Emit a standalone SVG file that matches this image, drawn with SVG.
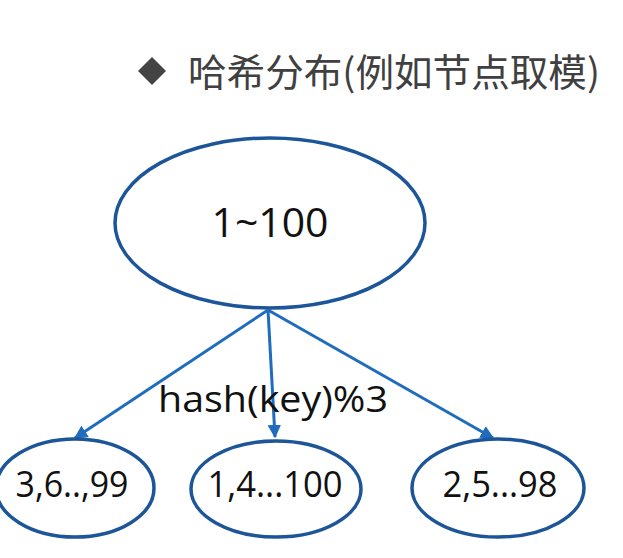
<svg xmlns="http://www.w3.org/2000/svg" width="623" height="558" viewBox="0 0 623 558">
<style>
.node ellipse{fill:#fff;stroke:#1d5599;stroke-width:3.5}
.lbl{font-family:"Open Sans","Liberation Sans",sans-serif;fill:#111;text-anchor:middle}
.edge{stroke:#1f6cbf;stroke-width:3;fill:none;marker-end:url(#ah)}
</style>
<defs>
<marker id="ah" viewBox="0 0 10 10" refX="9" refY="5" markerWidth="4.5" markerHeight="4.5" orient="auto" markerUnits="strokeWidth">
<path d="M0,0 L10,5 L0,10 z" fill="#1f6cbf"/>
</marker>
</defs>
<rect width="623" height="558" fill="#fff"/>
<g id="title">
<polygon points="152,57 166,71 152,85 138,71" fill="#444"/>
<text x="188" y="86" font-family="'Noto Sans CJK SC',sans-serif" font-size="38" fill="#404040" textLength="412" lengthAdjust="spacingAndGlyphs">哈希分布(例如节点取模)</text>
</g>
<g id="connectors">
<line class="edge" x1="268" y1="310" x2="75" y2="438"/>
<line class="edge" x1="268" y1="310" x2="275" y2="437"/>
<line class="edge" x1="268" y1="310" x2="493" y2="438"/>
</g>
<g id="root" class="node">
<ellipse cx="270" cy="223" rx="155" ry="85"/>
<text class="lbl" x="270" y="237" font-size="40" textLength="117" lengthAdjust="spacingAndGlyphs">1~100</text>
</g>
<g id="edge-label">
<text class="lbl" x="273" y="412" font-size="37" textLength="230" lengthAdjust="spacingAndGlyphs">hash(key)%3</text>
</g>
<g id="n0" class="node">
<ellipse cx="75" cy="488" rx="79" ry="49"/>
<text class="lbl" x="72" y="497" font-size="37" textLength="113" lengthAdjust="spacingAndGlyphs">3,6..,99</text>
</g>
<g id="n1" class="node">
<ellipse cx="276" cy="489" rx="85" ry="48"/>
<text class="lbl" x="275" y="497" font-size="37" textLength="135" lengthAdjust="spacingAndGlyphs">1,4...100</text>
</g>
<g id="n2" class="node">
<ellipse cx="498" cy="488" rx="86" ry="49"/>
<text class="lbl" x="500" y="497" font-size="37" textLength="115" lengthAdjust="spacingAndGlyphs">2,5...98</text>
</g>
</svg>
